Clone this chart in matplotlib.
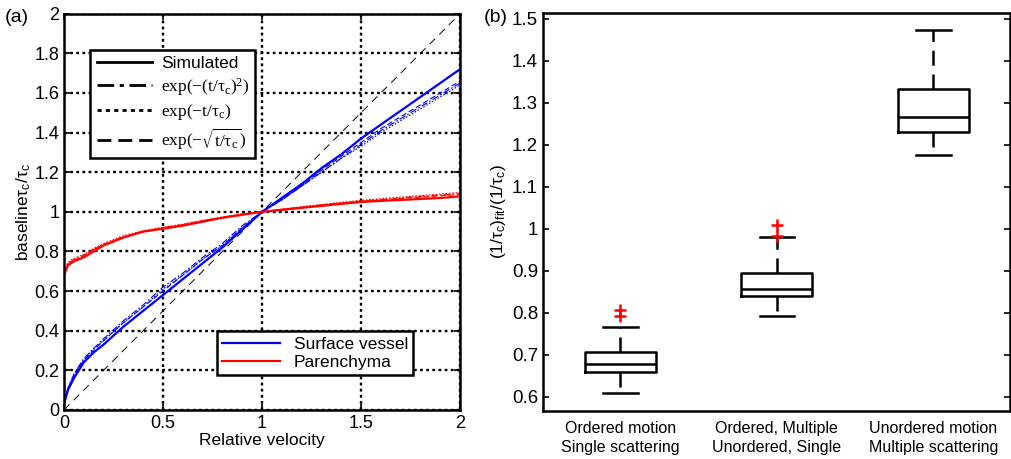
import matplotlib
matplotlib.use("Agg")
import matplotlib.pyplot as plt
from matplotlib.lines import Line2D

plt.rcParams["font.family"] = "Liberation Sans"
plt.rcParams["mathtext.fontset"] = "dejavusans"

# ── panel (a) data ────────────────────────────────────────────────
rel_velocity = [0, 0.02, 0.05, 0.1, 0.15, 0.2, 0.3, 0.4, 0.5, 0.6, 0.7, 0.8,
                0.9, 1.0, 1.1, 1.2, 1.3, 1.4, 1.5, 1.6, 1.7, 1.8, 1.9, 2.0]

vessel_sim = [0.03, 0.10, 0.16, 0.24, 0.29, 0.33, 0.42, 0.50, 0.58, 0.66, 0.74, 0.82,
              0.91, 1.00, 1.07, 1.14, 1.22, 1.29, 1.37, 1.44, 1.51, 1.58, 1.65, 1.72]
vessel_gauss = [0.03, 0.11, 0.18, 0.26, 0.31, 0.36, 0.45, 0.53, 0.62, 0.69, 0.77, 0.84,
                0.93, 1.00, 1.06, 1.13, 1.20, 1.27, 1.34, 1.41, 1.47, 1.53, 1.59, 1.65]
vessel_exp = [0.03, 0.11, 0.18, 0.25, 0.31, 0.35, 0.44, 0.52, 0.61, 0.68, 0.76, 0.83,
              0.92, 1.00, 1.06, 1.13, 1.20, 1.27, 1.33, 1.40, 1.46, 1.52, 1.58, 1.64]
vessel_sqrt = [0.03, 0.11, 0.17, 0.25, 0.30, 0.35, 0.44, 0.52, 0.60, 0.68, 0.76, 0.83,
               0.92, 1.00, 1.06, 1.13, 1.21, 1.28, 1.35, 1.42, 1.48, 1.54, 1.60, 1.66]

paren_sim = [0.68, 0.73, 0.75, 0.77, 0.80, 0.83, 0.87, 0.90, 0.915, 0.93, 0.95, 0.97,
             0.985, 1.00, 1.01, 1.02, 1.03, 1.04, 1.05, 1.055, 1.06, 1.065, 1.07, 1.078]
paren_gauss = [0.69, 0.74, 0.76, 0.78, 0.81, 0.835, 0.875, 0.90, 0.92, 0.935, 0.955, 0.972,
               0.988, 1.00, 1.012, 1.024, 1.035, 1.045, 1.055, 1.062, 1.07, 1.078, 1.085, 1.092]
paren_exp = [0.70, 0.745, 0.765, 0.785, 0.815, 0.84, 0.88, 0.905, 0.922, 0.938, 0.957, 0.974,
             0.99, 1.00, 1.014, 1.026, 1.037, 1.048, 1.058, 1.066, 1.074, 1.082, 1.09, 1.098]
paren_sqrt = [0.69, 0.735, 0.755, 0.78, 0.81, 0.835, 0.872, 0.90, 0.918, 0.934, 0.953, 0.971,
              0.987, 1.00, 1.011, 1.022, 1.033, 1.043, 1.052, 1.06, 1.067, 1.074, 1.081, 1.088]

diag_x = [0, 2]

# ── panel (b) data: box stats ────────────────────────────────────
categories = ["Ordered motion\nSingle scattering",
              "Ordered, Multiple\nUnordered, Single",
              "Unordered motion\nMultiple scattering"]
whis_low = [0.610, 0.792, 1.175]
q1 = [0.660, 0.840, 1.230]
median = [0.679, 0.857, 1.265]
q3 = [0.706, 0.895, 1.332]
whis_high = [0.767, 0.981, 1.473]
outliers = [[0.792, 0.806], [0.983, 1.010], []]

fig = plt.figure(figsize=(10.11, 4.59), dpi=100)

# ── (a) ───────────────────────────────────────────────────────────
ax1 = fig.add_axes([0.0633, 0.107, 0.3917, 0.863])
ax1.plot(diag_x, diag_x, color="black", lw=0.7, ls=(0, (8, 6)))

for col, sim, ga, ex, sq in [("#0000ff", vessel_sim, vessel_gauss, vessel_exp, vessel_sqrt),
                             ("#ff0000", paren_sim, paren_gauss, paren_exp, paren_sqrt)]:
    ax1.plot(rel_velocity, ga, color=col, lw=0.8, ls=(0, (6, 2, 1.5, 2)))
    ax1.plot(rel_velocity, ex, color=col, lw=0.8, ls=(0, (1.5, 1.5)))
    ax1.plot(rel_velocity, sq, color=col, lw=0.8, ls=(0, (5, 2.5)))
    ax1.plot(rel_velocity, sim, color=col, lw=1.6)

ax1.set_xlim(0, 2)
ax1.set_ylim(0, 2)
ax1.set_xticks([0, 0.5, 1, 1.5, 2])
ax1.set_xticklabels(["0", "0.5", "1", "1.5", "2"])
ax1.set_yticks([0, 0.2, 0.4, 0.6, 0.8, 1, 1.2, 1.4, 1.6, 1.8, 2])
ax1.set_yticklabels(["0", "0.2", "0.4", "0.6", "0.8", "1", "1.2", "1.4", "1.6", "1.8", "2"])
ax1.grid(True, color="black", ls=(0, (1.2, 1.4)), lw=1.7)
ax1.tick_params(direction="in", labelsize=13, length=4, width=1.2,
                top=True, right=True)
for s in ax1.spines.values():
    s.set_linewidth(1.8)
ax1.set_xlabel("Relative velocity", fontsize=12.5, labelpad=1)
ax1.set_ylabel(r"baseline$\mathregular{\tau_c/\tau_c}$", fontsize=12.5, labelpad=1)

style_handles = [
    Line2D([], [], color="black", lw=2),
    Line2D([], [], color="black", lw=2, ls=(0, (6, 2, 1.5, 2))),
    Line2D([], [], color="black", lw=2, ls=(0, (1.5, 1.5))),
    Line2D([], [], color="black", lw=2, ls=(0, (5, 2.5))),
]
style_labels = ["Simulated",
                r"$\mathregular{exp(-(t/\tau_c)^2)}$",
                r"$\mathregular{exp(-t/\tau_c)}$",
                r"$\mathregular{exp(-\sqrt{t/\tau_c})}$"]
leg1 = ax1.legend(style_handles, style_labels, loc="upper left",
                  bbox_to_anchor=(0.045, 0.93), fontsize=12.5, fancybox=False,
                  edgecolor="black", framealpha=1, handlelength=3.2,
                  borderpad=0.35, labelspacing=0.25, handletextpad=0.5)
leg1.get_frame().set_linewidth(1.8)
for t in leg1.get_texts()[1:]:
    t.set_fontfamily("Liberation Serif")
ax1.add_artist(leg1)

tissue_handles = [Line2D([], [], color="#0000ff", lw=1.6),
                  Line2D([], [], color="#ff0000", lw=1.6)]
leg2 = ax1.legend(tissue_handles, ["Surface vessel", "Parenchyma"],
                  loc="lower left", bbox_to_anchor=(0.365, 0.065), fontsize=12.5,
                  fancybox=False, edgecolor="black", framealpha=1,
                  handlelength=3.3, borderpad=0.3, labelspacing=0.2)
leg2.get_frame().set_linewidth(1.8)

fig.text(0.005, 0.952, "(a)", fontsize=14)

# ── (b) ───────────────────────────────────────────────────────────
ax2 = fig.add_axes([0.537, 0.105, 0.462, 0.867])
stats = []
for i in range(3):
    stats.append({"whislo": whis_low[i], "q1": q1[i], "med": median[i],
                  "q3": q3[i], "whishi": whis_high[i], "fliers": outliers[i]})
ax2.bxp(stats, positions=[1, 2, 3], widths=0.455, capwidths=0.22,
        boxprops=dict(color="black", lw=1.8),
        medianprops=dict(color="black", lw=1.8),
        whiskerprops=dict(color="black", lw=1.8, ls=(0, (6, 3.5))),
        capprops=dict(color="black", lw=1.8),
        flierprops=dict(marker="+", markeredgecolor="#ff0000", markersize=8,
                        markeredgewidth=1.8, ls="none"))
ax2.set_xlim(0.505, 3.49)
ax2.set_ylim(0.567, 1.514)
ax2.set_yticks([0.6, 0.7, 0.8, 0.9, 1.0, 1.1, 1.2, 1.3, 1.4, 1.5])
ax2.set_yticklabels(["0.6", "0.7", "0.8", "0.9", "1", "1.1", "1.2", "1.3", "1.4", "1.5"])
ax2.set_xticks([1, 2, 3])
ax2.set_xticklabels(categories, fontsize=11.5, linespacing=1.4)
ax2.tick_params(axis="y", direction="in", labelsize=13.5, length=4, width=1.2, right=True)
ax2.tick_params(axis="x", length=0, pad=7)
for s in ax2.spines.values():
    s.set_linewidth(1.8)
ax2.set_ylabel(r"$\mathregular{(1/\tau_c)_{fit}/(1/\tau_c)}$", fontsize=12.5, labelpad=3)

fig.text(0.478, 0.952, "(b)", fontsize=14)

fig.savefig("out.png", dpi=100)
